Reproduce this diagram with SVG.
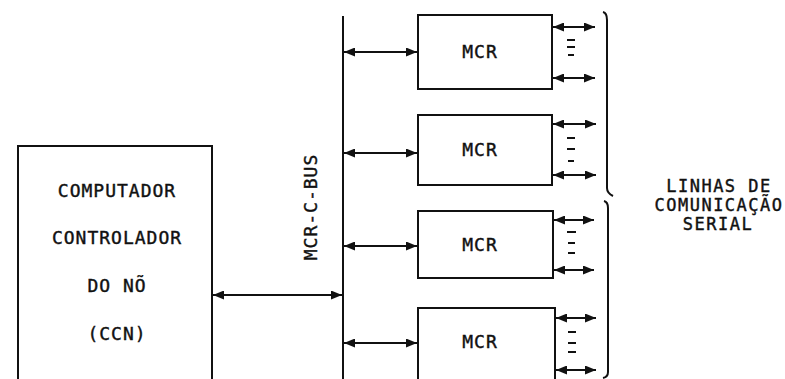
<svg xmlns="http://www.w3.org/2000/svg" width="785" height="379" viewBox="0 0 785 379">
<defs>
<style>
.box{fill:none;stroke:#111;stroke-width:2}
.ln{fill:none;stroke:#111;stroke-width:2}
.ar{fill:none;stroke:#111;stroke-width:2;marker-start:url(#ah);marker-end:url(#ah)}
.t{font-family:"DejaVu Sans Mono","Liberation Mono",monospace;font-size:18px;letter-spacing:1px;fill:#111;stroke:#111;stroke-width:0.4;text-anchor:middle}
.s{font-size:17px;letter-spacing:1.5px}
.d{stroke:#111;stroke-width:2}
</style>
<marker id="ah" viewBox="0 0 11 9" refX="11" refY="4.5" markerWidth="11" markerHeight="9" markerUnits="userSpaceOnUse" orient="auto-start-reverse">
<path d="M0,0 L11,4.5 L0,9 z" fill="#111"/>
</marker>
</defs>
<rect width="785" height="379" fill="#fff"/>
<g id="ccn">
<path class="box" d="M18,381 L18,146 L212,146 L212,381"/>
<text class="t" x="117" y="197">COMPUTADOR</text>
<text class="t" x="117" y="244">CONTROLADOR</text>
<text class="t" x="117" y="292">DO NÕ</text>
<text class="t" x="117" y="340">(CCN)</text>
</g>
<g id="bus">
<line class="ln" x1="343" y1="16" x2="343" y2="381"/>
<text class="t" transform="translate(317,207) rotate(-90)">MCR-C-BUS</text>
</g>
<g id="mcr1">
<rect class="box" x="418" y="15" width="134" height="74"/>
<text class="t" x="480" y="58">MCR</text>
</g>
<g id="mcr2">
<rect class="box" x="418" y="115" width="134" height="70"/>
<text class="t" x="480" y="156">MCR</text>
</g>
<g id="mcr3">
<rect class="box" x="418" y="211" width="135" height="67"/>
<text class="t" x="480" y="251">MCR</text>
</g>
<g id="mcr4">
<path class="box" d="M418,381 L418,308 L555,308 L555,381"/>
<text class="t" x="480" y="348">MCR</text>
</g>
<g id="connectors">
<line class="ar" x1="213" y1="295" x2="342" y2="295"/>
<line class="ar" x1="344" y1="52" x2="417" y2="52"/>
<line class="ar" x1="344" y1="153" x2="417" y2="153"/>
<line class="ar" x1="344" y1="246" x2="417" y2="246"/>
<line class="ar" x1="344" y1="343" x2="417" y2="343"/>
<line class="ar" x1="553" y1="27" x2="595" y2="27"/>
<line class="ar" x1="553" y1="78" x2="595" y2="78"/>
<line class="ar" x1="553" y1="124" x2="596" y2="124"/>
<line class="ar" x1="553" y1="175" x2="596" y2="175"/>
<line class="ar" x1="554" y1="220" x2="594" y2="220"/>
<line class="ar" x1="554" y1="270" x2="594" y2="270"/>
<line class="ar" x1="556" y1="318" x2="596" y2="318"/>
<line class="ar" x1="556" y1="370" x2="596" y2="370"/>
</g>
<g id="dashes">
<line class="d" x1="567" y1="40" x2="575" y2="40"/>
<line class="d" x1="567" y1="47" x2="575" y2="47"/>
<line class="d" x1="568" y1="55" x2="574" y2="55"/>
<line class="d" x1="567" y1="138" x2="575" y2="138"/>
<line class="d" x1="567" y1="149" x2="575" y2="149"/>
<line class="d" x1="568" y1="161" x2="574" y2="161"/>
<line class="d" x1="567" y1="232" x2="576" y2="232"/>
<line class="d" x1="568" y1="243" x2="575" y2="243"/>
<line class="d" x1="568" y1="253" x2="575" y2="253"/>
<line class="d" x1="568" y1="332" x2="576" y2="332"/>
<line class="d" x1="568" y1="343" x2="576" y2="343"/>
<line class="d" x1="568" y1="352" x2="576" y2="352"/>
</g>
<g id="braces">
<path class="ln" d="M603,12 Q607,13 607,20 L607,188 Q607,193 613,196"/>
<path class="ln" d="M604,201 Q608,202 608,208 L608,372 Q608,377 603,378"/>
</g>
<g id="label">
<text class="t s" x="719" y="192">LINHAS DE</text>
<text class="t s" x="719" y="211">COMUNICAÇÃO</text>
<text class="t s" x="718" y="230">SERIAL</text>
</g>
</svg>
